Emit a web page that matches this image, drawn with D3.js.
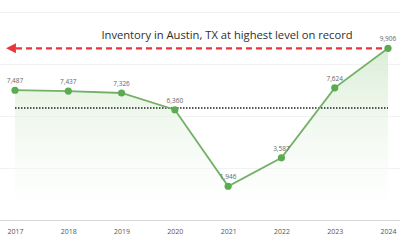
<!DOCTYPE html>
<html>
<head>
<meta charset="utf-8">
<script src="https://cdn.jsdelivr.net/npm/d3@7"></script>
<style>
  body { margin: 0; background: #fff; }
  #chart text { font-family: "Open Sans", "Noto Sans", sans-serif; }
</style>
</head>
<body>
<div id="chart"></div>
<script>
const years = ["2017", "2018", "2019", "2020", "2021", "2022", "2023", "2024"];
const inventory = [7487, 7437, 7326, 6360, 1946, 3587, 7624, 9906];
const gridValues = [0, 3000, 6000, 9000, 12000];
const title = "Inventory in Austin, TX at highest level on record";

const width = 400;
const height = 250;
const margin = { top: 12, right: 12, bottom: 30, left: 15 };

const data = years.map((y, i) => ({ year: y, value: inventory[i] }));
const avg = d3.mean(inventory);
const maxVal = d3.max(inventory);

const svg = d3.select("#chart")
    .append("svg")
    .attr("width", width)
    .attr("height", height);

const x = d3.scalePoint()
    .domain(years)
    .range([margin.left, width - margin.right]);

const y = d3.scaleLinear()
    .domain([0, 12000])
    .range([height - margin.bottom, margin.top]);

const defs = svg.append("defs");
const grad = defs.append("linearGradient")
    .attr("id", "fade")
    .attr("x1", 0).attr("x2", 0).attr("y1", 0).attr("y2", 1);
grad.append("stop").attr("offset", "0%").attr("stop-color", "#d6ecd2").attr("stop-opacity", 0.9);
grad.append("stop").attr("offset", "100%").attr("stop-color", "#ffffff").attr("stop-opacity", 0.2);

defs.append("marker")
    .attr("id", "arrow")
    .attr("viewBox", "0 0 10 10")
    .attr("refX", 4).attr("refY", 5)
    .attr("markerWidth", 4.5).attr("markerHeight", 4.5)
    .attr("orient", "auto-start-reverse")
    .append("path")
    .attr("d", "M0,0 L10,5 L0,10 z")
    .attr("fill", "#e8373c");

// faint gridlines
svg.append("g")
    .selectAll("line")
    .data(gridValues)
    .enter()
    .append("line")
    .attr("x1", 0)
    .attr("x2", width)
    .attr("y1", d => y(d) + 0.5)
    .attr("y2", d => y(d) + 0.5)
    .attr("stroke", d => d === 0 ? "#d8d8d8" : "#f2f2f2")
    .attr("stroke-width", 1);

// area
const area = d3.area()
    .x(d => x(d.year))
    .y0(y(0))
    .y1(d => y(d.value));

svg.append("path")
    .datum(data)
    .attr("d", area)
    .attr("fill", "url(#fade)");

// average dotted line
svg.append("line")
    .attr("x1", x(years[0]))
    .attr("x2", x(years[years.length - 1]))
    .attr("y1", y(avg))
    .attr("y2", y(avg))
    .attr("stroke", "#222")
    .attr("stroke-width", 1.5)
    .attr("stroke-dasharray", "1.5,1.5");

// record line
svg.append("line")
    .attr("x1", x(years[years.length - 1]) - 6)
    .attr("x2", 12)
    .attr("y1", y(maxVal))
    .attr("y2", y(maxVal))
    .attr("stroke", "#e8373c")
    .attr("stroke-width", 2.2)
    .attr("stroke-dasharray", "6,4")
    .attr("marker-end", "url(#arrow)");

svg.append("text")
    .attr("x", 227)
    .attr("y", 39)
    .attr("text-anchor", "middle")
    .attr("font-size", 11.2)
    .attr("fill", "#2e2e2e")
    .text(title);

// line
const line = d3.line()
    .x(d => x(d.year))
    .y(d => y(d.value));

svg.append("path")
    .datum(data)
    .attr("d", line)
    .attr("fill", "none")
    .attr("stroke", "#74b067")
    .attr("stroke-width", 1.8);

svg.selectAll("circle")
    .data(data)
    .enter()
    .append("circle")
    .attr("cx", d => x(d.year))
    .attr("cy", d => y(d.value))
    .attr("r", 3.6)
    .attr("fill", "#5aac50");

svg.selectAll(".lbl")
    .data(data)
    .enter()
    .append("text")
    .attr("class", "lbl")
    .attr("x", d => x(d.year))
    .attr("y", d => y(d.value) - 7)
    .attr("text-anchor", "middle")
    .attr("font-size", 6.5)
    .attr("fill", "#666")
    .text(d => d3.format(",")(d.value));

// x axis labels
svg.append("g")
    .attr("transform", `translate(0, ${y(0)})`)
    .call(d3.axisBottom(x).tickSize(0).tickPadding(9))
    .call(g => g.select(".domain").remove())
    .call(g => g.selectAll("text")
        .attr("font-size", 7)
        .attr("fill", "#555")
        .attr("font-family", "\"Open Sans\", sans-serif"));
</script>
</body>
</html>
